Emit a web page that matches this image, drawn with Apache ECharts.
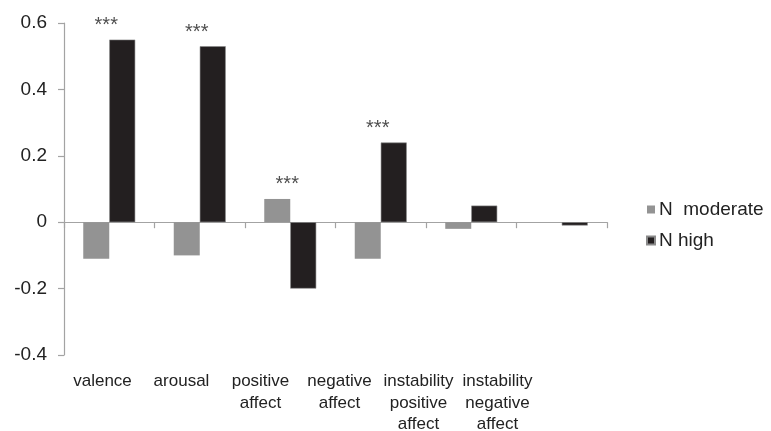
<!DOCTYPE html>
<html>
<head>
<meta charset="utf-8">
<script src="https://cdn.jsdelivr.net/npm/echarts@6/dist/echarts.min.js"></script>
<style>
html,body{margin:0;padding:0;background:#fff;}
#c{width:771px;height:431px;}
</style>
</head>
<body>
<div id="c"></div>
<script>
var categories = ['valence', 'arousal', 'positive\naffect', 'negative\naffect', 'instability\npositive\naffect', 'instability\nnegative\naffect'];
var nModerate = [-0.11, -0.10, 0.07, -0.11, -0.02, 0];
var nHigh = [0.55, 0.53, -0.20, 0.24, 0.05, -0.01];
var significance = ['***', '***', '***', '***', '', ''];
var yTicks = { min: -0.4, max: 0.6, interval: 0.2 };

var starData = categories.map(function (c, i) {
  if (!significance[i]) return null;
  return { value: [i, Math.max(nModerate[i], nHigh[i], 0)], label: { formatter: significance[i] } };
}).filter(function (d) { return d; });

var font = 'Liberation Sans, Arial, Helvetica, sans-serif';
var chart = echarts.init(document.getElementById('c'), null, { renderer: 'canvas' });
chart.setOption({
  animation: false,
  textStyle: { fontFamily: font },
  grid: [
    { left: 64, right: 164, top: 23, bottom: 76, outerBoundsMode: 'none' },
    { left: 63, right: 234, top: 23, bottom: 76, outerBoundsMode: 'none' }
  ],
  legend: {
    orient: 'vertical', left: 641, top: 195,
    itemWidth: 8, itemHeight: 8, itemGap: 12, icon: 'rect',
    data: ['N  moderate', 'N high'],
    textStyle: { fontSize: 19, color: '#222', fontFamily: font, padding: [0, 0, 0, -1] }
  },
  xAxis: [{
    type: 'category', data: categories, position: 'bottom', gridIndex: 0,
    axisLine: { onZero: true, lineStyle: { color: '#a3a3a3', width: 1.2 } },
    axisTick: { show: true, length: 6, lineStyle: { color: '#a3a3a3', width: 1.2 } },
    axisLabel: { show: false }
  }, {
    type: 'category', data: categories, position: 'bottom', gridIndex: 1,
    axisLine: { show: false, onZero: false }, axisTick: { show: false },
    axisLabel: { show: true, interval: 0, margin: 16, fontSize: 17, lineHeight: 21.5, color: '#222', fontFamily: font }
  }],
  yAxis: [{
    type: 'value', min: yTicks.min, max: yTicks.max, interval: yTicks.interval, gridIndex: 0,
    axisLine: { show: true, lineStyle: { color: '#a3a3a3', width: 1.2 } },
    axisTick: { show: true, length: 6, lineStyle: { color: '#a3a3a3', width: 1.2 } },
    splitLine: { show: false },
    axisLabel: { margin: 17, fontSize: 19, color: '#222', fontFamily: font,
      formatter: function (v) { return Math.abs(v) < 1e-9 ? '0' : String(Math.round(v * 10) / 10); } }
  }, {
    type: 'value', min: yTicks.min, max: yTicks.max, interval: yTicks.interval, gridIndex: 1, show: false
  }],
  series: [{
    name: 'N  moderate', type: 'bar', data: nModerate, barWidth: 26, barGap: '0%',
    itemStyle: { color: '#939393' }
  }, {
    name: 'N high', type: 'bar', data: nHigh, barWidth: 26, barGap: '0%',
    itemStyle: { color: '#231f20', borderColor: '#8a8a8a', borderWidth: 0.6 }
  }, {
    name: 'sig', type: 'scatter', data: starData, symbolSize: 0, silent: true,
    label: { show: true, position: 'top', distance: 4, offset: [-3, 0], fontSize: 20, color: '#222', fontFamily: font }
  }]
});
</script>
</body>
</html>
